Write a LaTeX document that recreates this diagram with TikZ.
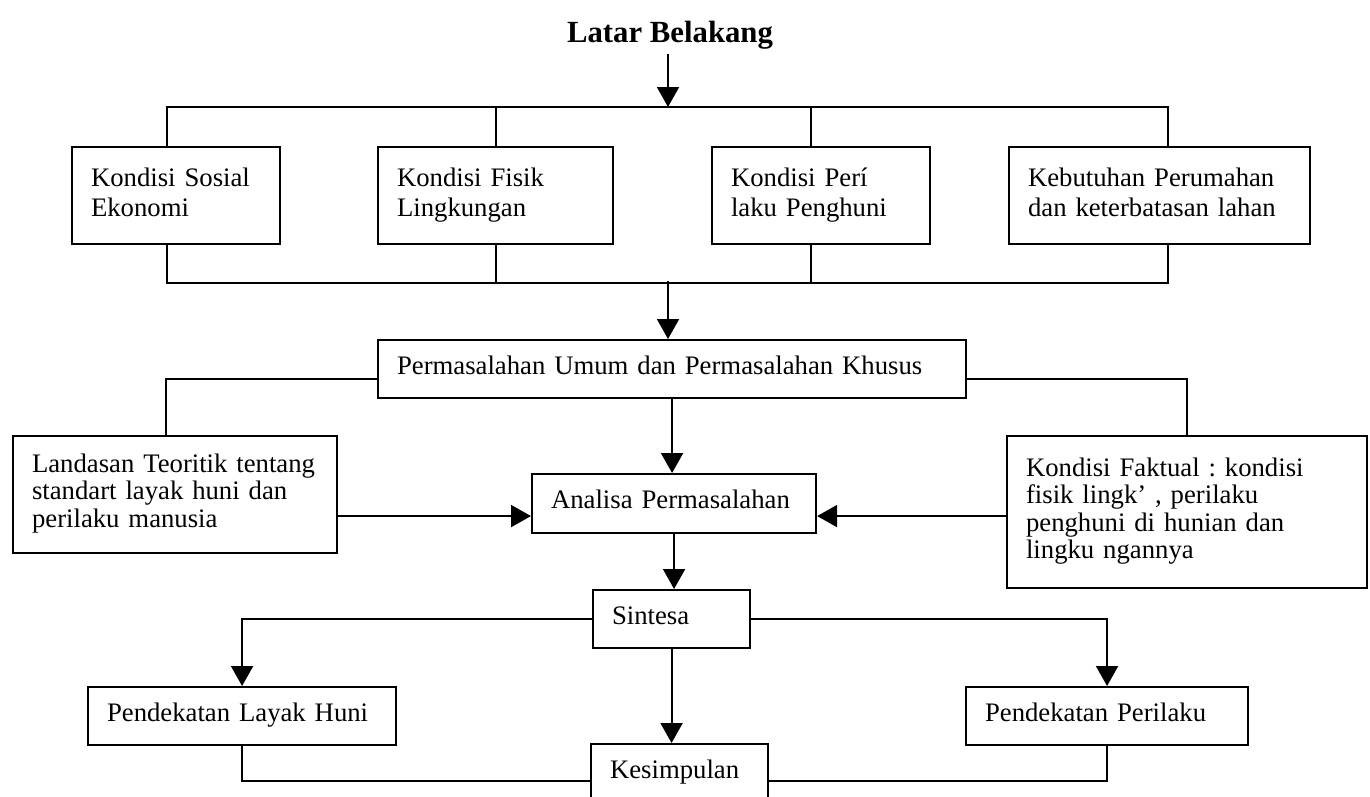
\documentclass[tikz,border=0pt]{standalone}
\usepackage{fontspec}
\setmainfont{Liberation Serif}
\usetikzlibrary{arrows.meta,positioning}

\begin{document}
\frenchspacing
\begin{tikzpicture}[x=0.2mm, y=-0.2mm,
    kotak/.style={draw, line width=1.2pt, anchor=north west, align=left, inner xsep=3.8mm, inner ysep=0pt,
        minimum height=11.6mm, font=\fontsize{15.2}{15.4}\selectfont,
        execute at begin node=\strut, execute at end node=\strut},
    kotakatas/.style={kotak, minimum height=19.4mm, font=\fontsize{15.2}{17}\selectfont},
    garis/.style={line width=1.1pt},
    panah/.style={garis, -{Triangle[length=4mm, width=4.4mm]}}]
    \useasboundingbox (0,0) rectangle (1370,796);
    \clip (0,0) rectangle (1370,796);

    \node[font=\fontsize{17.5}{19}\selectfont\bfseries, inner sep=1mm] (judul) at (670,35) {Latar Belakang};
    \coordinate (atas) at (668,107);
    \coordinate (bawah) at (668,281);

    \node[kotakatas, text width=34mm] (k1) at (71,146) {Kondisi Sosial\\Ekonomi};
    \node[kotakatas, text width=39.4mm] (k2) at (377,146) {Kondisi Fisik\\Lingkungan};
    \node[kotakatas, text width=36mm] (k3) at (711,146) {Kondisi Perí\\laku Penghuni};
    \node[kotakatas, text width=52.6mm] (k4) at (1008,146) {Kebutuhan Perumahan\\dan keterbatasan lahan};

    \node[kotak, text width=110mm] (masalah) at (377,339) {Permasalahan Umum dan Permasalahan Khusus};
    \node[kotak, text width=57.2mm, minimum height=23.4mm] (teori) at (12,435)
        {Landasan Teoritik tentang\\standart layak huni dan\\perilaku manusia};
    \node[kotak, text width=64.4mm, minimum height=30.4mm] (fakta) at (1006,435)
        {Kondisi Faktual : kondisi\\fisik lingk’ , perilaku\\penghuni di hunian dan\\lingku ngannya};
    \node[kotak, text width=49.2mm, minimum height=11.8mm] (analisa) at (531,473) {Analisa Permasalahan};
    \node[kotak, text width=23.8mm] (sintesa) at (592,589) {Sintesa};
    \node[kotak, text width=54mm] (layak) at (87,686) {Pendekatan Layak Huni};
    \node[kotak, text width=48.8mm] (perilaku) at (965,686) {Pendekatan Perilaku};
    \node[kotak, text width=27.8mm] (kesimpulan) at (590,743) {Kesimpulan};

    \draw[panah] (judul.south -| atas) -- (atas);
    \draw[garis] ([xshift=-1.8mm]k1.north) -- ++(0,-39) -| ([xshift=1.7mm]k4.north);
    \draw[garis] (k2.north) -- ++(0,-39);
    \draw[garis] ([xshift=-2mm]k3.north) -- ++(0,-39);
    \draw[garis] ([xshift=-1.8mm]k1.south) -- ++(0,38) -| ([xshift=1.7mm]k4.south);
    \draw[garis] (k2.south) -- ++(0,38);
    \draw[garis] ([xshift=-2mm]k3.south) -- ++(0,38);
    \draw[panah] (bawah) -- (bawah |- masalah.north);

    \draw[garis] ([yshift=-2mm]masalah.west) -| ([xshift=-1.8mm]teori.north);
    \draw[garis] ([yshift=-2mm]masalah.east) -| (fakta.north);
    \draw[panah] (masalah.south) -- (masalah.south |- analisa.north);
    \coordinate (aw) at ([yshift=-2.5mm]analisa.west);
    \coordinate (ae) at ([yshift=-2.5mm]analisa.east);
    \draw[panah] (teori.east |- aw) -- (aw);
    \draw[panah] (fakta.west |- ae) -- (ae);
    \draw[panah] (analisa.south) -- (analisa.south |- sintesa.north);

    \draw[panah] (sintesa.west) -| (layak.north);
    \draw[panah] (sintesa.east) -| (perilaku.north);
    \draw[panah] (sintesa.south) -- (sintesa.south |- kesimpulan.north);
    \draw[garis] (layak.south) |- ([yshift=-1.5mm]kesimpulan.west);
    \draw[garis] (perilaku.south) |- ([yshift=-1.5mm]kesimpulan.east);
\end{tikzpicture}
\end{document}
